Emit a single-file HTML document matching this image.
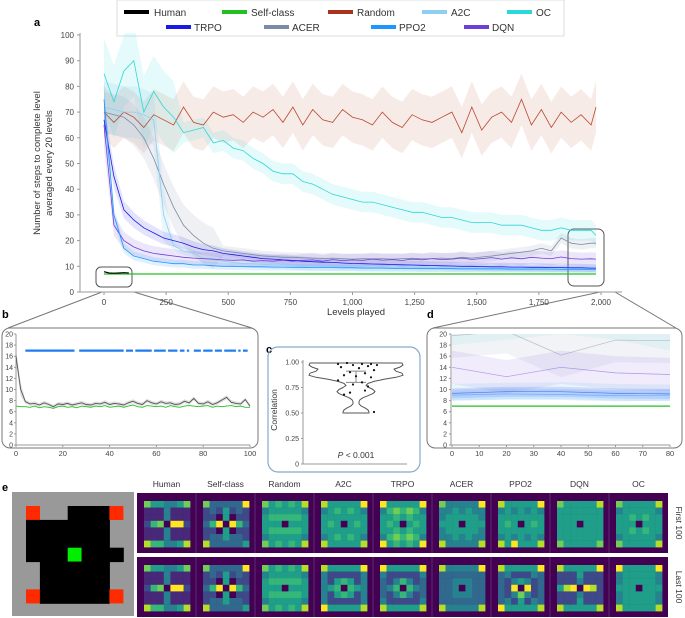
<!DOCTYPE html>
<html><head><meta charset="utf-8"><style>
html,body{margin:0;padding:0;background:#fff;}
svg{display:block;font-family:"Liberation Sans",sans-serif;}
</style></head><body>
<svg id="root" width="685" height="618" viewBox="0 0 685 618" xmlns="http://www.w3.org/2000/svg">
<defs>
<clipPath id="clipA"><rect x="80" y="33" width="545" height="259"/></clipPath>
<clipPath id="clipD"><rect x="451" y="334" width="225" height="111"/></clipPath>
</defs>
<g>
<rect x="117" y="0" width="447" height="36" fill="#fff" stroke="#ddd" stroke-width="1"/>
<g font-size="10" fill="#333">
<g><rect x="124" y="10" width="25" height="4" fill="#000"/><text x="154" y="16">Human</text></g>
<g><rect x="222" y="10" width="25" height="4" fill="#22c022"/><text x="251" y="16">Self-class</text></g>
<g><rect x="328" y="10" width="25" height="4" fill="#a8321e"/><text x="357" y="16">Random</text></g>
<g><rect x="422" y="10" width="25" height="4" fill="#8ccff0"/><text x="451" y="16">A2C</text></g>
<g><rect x="507" y="10" width="25" height="4" fill="#2bd8d8"/><text x="536" y="16">OC</text></g>
<g><rect x="166" y="25" width="25" height="4" fill="#1a1ae6"/><text x="194" y="31">TRPO</text></g>
<g><rect x="264" y="25" width="25" height="4" fill="#7a8ca6"/><text x="292" y="31">ACER</text></g>
<g><rect x="371" y="25" width="25" height="4" fill="#1e96ff"/><text x="399" y="31">PPO2</text></g>
<g><rect x="464" y="25" width="25" height="4" fill="#6a40d8"/><text x="492" y="31">DQN</text></g>
</g></g>
<text x="34" y="26" font-size="11" font-weight="bold">a</text>
<text x="2" y="318" font-size="11" font-weight="bold">b</text>
<text x="266" y="353" font-size="11" font-weight="bold">c</text>
<text x="427" y="318" font-size="11" font-weight="bold">d</text>
<text x="2" y="491" font-size="11" font-weight="bold">e</text>
<g font-size="9.5" fill="#333" text-anchor="middle">
<text transform="translate(40,163) rotate(-90)">Number of steps to complete level</text>
<text transform="translate(52,163) rotate(-90)">averaged every 20 levels</text>
</g>
<text x="356" y="315" font-size="9.5" fill="#333" text-anchor="middle">Levels played</text>
<g fill="none" stroke="#555" stroke-width="1">
<rect x="96" y="267" width="36" height="20" rx="5"/>
<rect x="568" y="229" width="36" height="57" rx="6"/>
<path d="M102,292 L8,328 M134,292 L252,328" stroke="#777"/>
<path d="M600,292 L433,328 M615,292 L676,328" stroke="#777"/>
</g>
<rect x="2" y="328" width="256" height="120" rx="8" fill="none" stroke="#777"/>
<rect x="427" y="328" width="255" height="120" rx="8" fill="none" stroke="#777"/>
<rect x="268" y="347" width="152" height="125" rx="10" fill="none" stroke="#8aa8c8" stroke-width="1.2"/>
<g id="A"></g><g id="B"></g><g id="C"></g><g id="D"></g><g id="E"></g>
</svg>
<script>
const aLevels=[0,40,80,120,160,200,240,280,320,360,400,440,480,520,560,600,640,680,720,760,800,840,880,920,960,1000,1040,1080,1120,1160,1200,1240,1280,1320,1360,1400,1440,1480,1520,1560,1600,1640,1680,1720,1760,1800,1840,1880,1920,1960,1980];
const aRandom=[70,66,70,68,64,69,67,65,72,66,65,70,68,69,66,70,68,71,66,72,65,71,67,66,71,68,67,65,70,66,64,69,67,66,68,70,62,72,63,68,70,66,75,65,71,64,70,66,69,65,72];
const aOC=[85,74,86,90,70,78,72,68,62,63,64,58,59,56,55,52,50,47,46,46,43,42,40,38,37,36,35,35,34,33,32,31,31,30,29,29,28,27,27,27,26,26,26,25,24,24,25,24,24,24,22];
const aA2C=[72,71,70,70,69,67,30,18,16,15,13,12.5,12,11.5,11,11,10.8,10.5,10.5,10.3,10,10,10,9.8,9.8,9.7,9.7,9.6,9.6,9.5,9.5,9.5,9.4,9.4,9.4,9.3,9.3,9.3,9.3,9.2,9.2,9.2,9.2,9.1,9.1,9.1,9.1,9.1,9,9,9];
const aACER=[70,69,68,65,60,52,42,33,26,22,19,17,16,15.5,15,14.5,14,13.8,13.5,13.5,13.3,13.2,13,13.2,13,12.8,13,12.9,13,12.8,13,13.1,12.9,13,13.2,13,13.5,13.2,13.6,14,14.5,15,15.5,16,17,16,21,19,18.5,19,19];
const aTRPO=[67,45,32,28,25,23,21,20,19,17.5,16.5,16,15,14.5,14,13.5,13,12.8,12.5,12.3,12,11.8,11.6,11.5,11.3,11.1,11,10.9,10.8,10.7,10.6,10.5,10.4,10.3,10.2,10.1,10,10,9.9,9.8,9.8,9.7,9.7,9.6,9.6,9.5,9.5,9.4,9.4,9.3,9.3];
const aPPO2=[75,30,17,14,13,12,11.5,11,11,10.5,10.5,10.2,10,10,9.9,9.8,9.8,9.7,9.7,9.6,9.6,9.5,9.5,9.5,9.4,9.4,9.3,9.3,9.3,9.2,9.2,9.2,9.1,9.1,9.1,9.1,9,9,9,9,9,8.9,8.9,8.9,8.9,8.9,8.8,8.8,8.8,8.8,8.8];
const aDQN=[65,26,20,17.5,16,15,14.5,14,13.5,13.2,13,12.8,12.5,12.3,12.5,12,12.2,12,12.4,12,12.3,12.5,12,12.6,12.2,12.5,12.3,12.8,12.4,12.6,12.3,12.8,12.5,13,12.6,12.8,13.2,12.7,13,13.4,12.8,13.3,12.9,13.5,13.2,13,13.6,13,12.8,12.9,12.8];
const aSelf=[7,7,7,7,7,7,7,7,7,7,7,7,7,7,7,7,7,7,7,7,7,7,7,7,7,7,7,7,7,7,7,7,7,7,7,7,7,7,7,7,7,7,7,7,7,7,7,7,7,7,7];
const aHumanLevels=[0,20,40,60,80,100];
const aHuman=[7.9,7.4,7.3,7.4,7.5,7.4];
const aYTicks=[0,10,20,30,40,50,60,70,80,90,100];
const aXTicks=[0,250,500,750,1000,1250,1500,1750,2000];
const aXTickLabels=["0","250","500","750","1,000","1,250","1,500","1,750","2,000"];

const bLevels=[0,2,4,6,8,10,12,14,16,18,20,22,24,26,28,30,32,34,36,38,40,42,44,46,48,50,52,54,56,58,60,62,64,66,68,70,72,74,76,78,80,82,84,86,88,90,92,94,96,98,100];
const bHuman=[16,10,7.8,7.4,7.5,7.2,7.6,7.3,6.9,7.4,7.3,7.5,7.2,7.4,7.6,7.3,7.2,7.5,7.4,7.7,7.3,7.5,7.4,7.2,7.6,7.9,7.5,7.3,8.0,7.6,7.4,7.8,7.5,7.6,7.3,7.4,7.9,7.6,8.4,7.5,7.4,7.8,7.3,7.6,8.1,8.6,7.7,7.5,7.4,8.2,7.0];
const bSelf=[7.0,6.9,6.9,6.8,7.0,6.7,6.9,6.8,6.6,6.9,7.0,6.8,6.9,6.7,7.0,6.9,6.8,7.0,6.9,7.1,6.8,6.9,7.0,6.8,7.0,7.2,6.9,6.8,7.1,7.0,6.9,7.0,6.8,7.1,6.9,6.8,7.0,7.1,7.0,6.9,7.0,7.1,6.8,7.0,6.9,7.0,7.1,6.9,7.0,6.8,6.8];
const bSigStart=[4,27,47,51,59,65,70,73,76,80,85,89,95,97];
const bSigEnd=[25,46,50,58,64,69,72,74,79,84,88,94,96,99];
const bSigLevel=17;
const bYTicks=[0,2,4,6,8,10,12,14,16,18,20];
const bXTicks=[0,20,40,60,80,100];

const cPoints=[0.99,0.98,0.98,0.97,0.96,0.95,0.94,0.92,0.90,0.89,0.87,0.86,0.85,0.82,0.80,0.78,0.76,0.72,0.70,0.68,0.51,0.97,0.98];
const cJitter=[-0.3,0.2,0.5,-0.1,0.4,-0.5,0.1,0.6,-0.2,0.3,-0.4,0.0,0.5,-0.6,0.2,-0.1,0.4,0.3,-0.2,-0.4,0.6,0.7,-0.6];
const cViolinLevels=[0.99,0.97,0.95,0.93,0.91,0.89,0.87,0.85,0.83,0.81,0.79,0.77,0.75,0.73,0.71,0.69,0.67,0.65,0.63,0.61,0.59,0.57,0.55,0.53,0.51,0.50];
const cViolinDensity=[46,47,44,38,40,46,47,40,28,18,12,10,13,17,19,17,12,7,4,3,3,5,9,12,13,13];
const cMean=0.91, cLow=0.80;
const cYTicks=[0,0.25,0.5,0.75,1.0];
const cYTickLabels=["0","0.25","0.50","0.75","1.00"];

const dLevels=[0,20,40,60,80];
const dACER=[19.7,20.5,16.2,18.9,18.8];
const dDQN=[14,12.3,14,13,12.7];
const dTRPO=[9.3,9.6,9.6,9.3,9.2];
const dPPO2=[9,9.2,9.1,8.9,9];
const dA2C=[9.5,9.7,9.8,9.5,9.4];
const dOC=[23,24,25,24,22];
const dSelf=[7,7,7,7,7];
const dYTicks=[0,2,4,6,8,10,12,14,16,18,20];
const dXTicks=[0,10,20,30,40,50,60,70,80];

const eAgents=["Human","Self-class","Random","A2C","TRPO","ACER","PPO2","DQN","OC"];
const eFirst=[
"7554457111411111141112670992111411111141118664458",
"7333339232523222050223690963220502223353328333335",
"7565658455555456666655550555566666545555547565658",
"8555559456565455555555650565555555545656548555558",
"9555559467676455656555650565556565546767649565659",
"7444449445454445555545550555455555444545448444448",
"8555559454545455555555650565555555545454548595558",
"7555558555555555555555550555555555555555557555557",
"7555558455555455656555550555556565545555547555558"];
const eLast=[
"7554457111411111141112670992111411111141118664458",
"7333339232523222050223690963220502223353328333335",
"7565658455555456666655550555566666545555547565658",
"8555559422222442565244560654425652442222249555558",
"9555559422222432464233460643324642342222248555558",
"8444449333333333444333340433334443333333338444448",
"8555559342224332454233290923324742334252439555558",
"8555559222522222242225890982222422222252228555558",
"9555559455555445555545550555455555445555548555558"];
const eMaze=["R00BBBR","BBBBBB0","BBBBBB0","BBBGBBB","0BBBBB0","0BBBBB0","RBBBBBR"];

const NS="http://www.w3.org/2000/svg";
function mk(tag,attrs,parent){const e=document.createElementNS(NS,tag);for(const k in attrs)e.setAttribute(k,attrs[k]);parent.appendChild(e);return e;}
function pathD(xs,ys,sx,sy){return xs.map((x,i)=>(i?'L':'M')+sx(x).toFixed(1)+','+sy(ys[i]).toFixed(1)).join('');}
function bandD(xs,ys,hw,sx,sy){let up=xs.map((x,i)=>sx(x).toFixed(1)+','+sy(ys[i]+hw(ys[i],i)).toFixed(1));let dn=xs.map((x,i)=>sx(x).toFixed(1)+','+sy(Math.max(0,ys[i]-hw(ys[i],i))).toFixed(1)).reverse();return 'M'+up.join('L')+'L'+dn.join('L')+'Z';}

const A=document.getElementById('A');
const ax=v=>104+v*(601-104)/2000, ay=v=>292-v*2.57;
let axis=mk('path',{d:'M80,33 L80,292 L622,292',fill:'none',stroke:'#999','stroke-width':1},A);


aYTicks.forEach(t=>{mk('line',{x1:77,x2:80,y1:ay(t),y2:ay(t),stroke:'#999'},A);
 const tx=mk('text',{x:74,y:ay(t)+3,'font-size':8,fill:'#444','text-anchor':'end'},A);tx.textContent=t;
 
 });
aXTicks.forEach((t,i)=>{mk('line',{x1:ax(t),x2:ax(t),y1:292,y2:295,stroke:'#999'},A);
 const tx=mk('text',{x:ax(t),y:305,'font-size':8,fill:'#444','text-anchor':'middle'},A);tx.textContent=aXTickLabels[i];
 
 });
const gA=mk('g',{'clip-path':'url(#clipA)'},A);
const seriesA=[
 {n:'random',v:aRandom,c:'#b8492f',hw:(v)=>10,bo:0.11},
 {n:'oc',v:aOC,c:'#2bd8d8',hw:(v,i)=>i<8?14:4,bo:0.12},
 {n:'acer',v:aACER,c:'#7a8ca6',hw:(v,i)=>i<12?8:2,bo:0.13},
 {n:'a2c',v:aA2C,c:'#8ccff0',hw:(v,i)=>i<7?10:1.5,bo:0.18},
 {n:'dqn',v:aDQN,c:'#6a40d8',hw:(v)=>1+v*0.12,bo:0.13},
 {n:'trpo',v:aTRPO,c:'#1a1ae6',hw:(v)=>0.8+v*0.08,bo:0.12},
 {n:'ppo2',v:aPPO2,c:'#1e96ff',hw:(v)=>0.6+v*0.08,bo:0.14}];
seriesA.forEach(s=>{const b=mk('path',{d:bandD(aLevels,s.v,s.hw,ax,ay),fill:s.c,opacity:s.bo,stroke:'none'},gA);
 
 });
seriesA.forEach(s=>{const l=mk('path',{d:pathD(aLevels,s.v,ax,ay),fill:'none',stroke:s.c,'stroke-width':0.8},gA);
 
 });
let ls=mk('path',{d:pathD(aLevels,aSelf,ax,ay),fill:'none',stroke:'#22c022','stroke-width':1.2},gA);


let lh=mk('path',{d:pathD(aHumanLevels,aHuman,ax,ay),fill:'none',stroke:'#000','stroke-width':1.2},gA);



const B=document.getElementById('B');
const bx=v=>16+v*2.34, by=v=>445-v*5.55;
let axb=mk('path',{d:'M16,334 L16,445 L250,445',fill:'none',stroke:'#999'},B);


bYTicks.forEach(t=>{mk('line',{x1:14,x2:16,y1:by(t),y2:by(t),stroke:'#999'},B);
 const tx=mk('text',{x:13,y:by(t)+2.5,'font-size':7,fill:'#444','text-anchor':'end'},B);tx.textContent=t;
 
 });
bXTicks.forEach(t=>{mk('line',{x1:bx(t),x2:bx(t),y1:445,y2:447,stroke:'#999'},B);
 const tx=mk('text',{x:bx(t),y:456,'font-size':7.5,fill:'#444','text-anchor':'middle'},B);tx.textContent=t;
 
 });
let bb=mk('path',{d:bandD(bLevels,bHuman,(v,i)=>i<2?1.2:0.35,bx,by),fill:'#999',opacity:0.3},B);


let bh=mk('path',{d:pathD(bLevels,bHuman,bx,by),fill:'none',stroke:'#555','stroke-width':0.9},B);


let bs=mk('path',{d:pathD(bLevels,bSelf,bx,by),fill:'none',stroke:'#22c022','stroke-width':0.9},B);


bSigStart.forEach((s,i)=>{const r=mk('line',{x1:bx(s),x2:bx(bSigEnd[i]),y1:by(bSigLevel),y2:by(bSigLevel),stroke:'#1e7cf0','stroke-width':2.2},B);
 
 });

const C=document.getElementById('C');
const cy=v=>464-v*102, cxc=356;
let axc=mk('path',{d:'M303,360 L303,464 L407,464',fill:'none',stroke:'#999'},C);


cYTicks.forEach((t,i)=>{mk('line',{x1:301,x2:303,y1:cy(t),y2:cy(t),stroke:'#999'},C);
 const tx=mk('text',{x:299,y:cy(t)+2.5,'font-size':7,fill:'#444','text-anchor':'end'},C);tx.textContent=cYTickLabels[i];
 
 });
let ct=mk('text',{transform:'translate(277,410) rotate(-90)','font-size':8.5,fill:'#333','text-anchor':'middle'},C);ct.textContent='Correlation';


let right=cViolinLevels.map((v,i)=>(cxc+cViolinDensity[i]).toFixed(1)+','+cy(v).toFixed(1));
let left=cViolinLevels.map((v,i)=>(cxc-cViolinDensity[i]).toFixed(1)+','+cy(v).toFixed(1)).reverse();
let vio=mk('path',{d:'M'+right.join('L')+'L'+left.join('L')+'Z',fill:'#fff',stroke:'#555','stroke-width':1,'stroke-linejoin':'round'},C);


let eb=mk('path',{d:`M${cxc-10},${cy(cMean)}L${cxc+10},${cy(cMean)}M${cxc},${cy(cMean)}L${cxc},${cy(cLow)}M${cxc-10},${cy(cLow)}L${cxc+10},${cy(cLow)}`,stroke:'#888',fill:'none'},C);


cPoints.forEach((p,i)=>{const d=mk('circle',{cx:cxc+cJitter[i]*30,cy:cy(p),r:1.1,fill:'#111'},C);
 
 });
let pv=mk('text',{x:356,y:458,'font-size':8.5,fill:'#333','text-anchor':'middle'},C);pv.innerHTML='<tspan font-style="italic">P</tspan> &lt; 0.001';



const D=document.getElementById('D');
const dx=v=>452+v*2.725, dy=v=>445-v*5.55;
let axd=mk('path',{d:'M451,334 L451,445 L670,445',fill:'none',stroke:'#999'},D);


dYTicks.forEach(t=>{mk('line',{x1:449,x2:451,y1:dy(t),y2:dy(t),stroke:'#999'},D);
 const tx=mk('text',{x:447,y:dy(t)+2.5,'font-size':7,fill:'#444','text-anchor':'end'},D);tx.textContent=t;
 
 });
dXTicks.forEach(t=>{mk('line',{x1:dx(t),x2:dx(t),y1:445,y2:447,stroke:'#999'},D);
 const tx=mk('text',{x:dx(t),y:456,'font-size':7.5,fill:'#444','text-anchor':'middle'},D);tx.textContent=t;
 
 });
const gD=mk('g',{'clip-path':'url(#clipD)'},D);
const seriesD=[
 {n:'oc',v:dOC,c:'#2bd8d8',hw:5,bo:0.08},
 {n:'acer',v:dACER,c:'#7a8ca6',hw:4,bo:0.1},
 {n:'dqn',v:dDQN,c:'#6a40d8',hw:3,bo:0.1},
 {n:'a2c',v:dA2C,c:'#8ccff0',hw:1.5,bo:0.2},
 {n:'trpo',v:dTRPO,c:'#1a1ae6',hw:0.9,bo:0.12},
 {n:'ppo2',v:dPPO2,c:'#1e96ff',hw:1,bo:0.15}];
seriesD.forEach(s=>{const b=mk('path',{d:bandD(dLevels,s.v,()=>s.hw,dx,dy),fill:s.c,opacity:s.bo},gD);
 
 });
seriesD.forEach(s=>{const l=mk('path',{d:pathD(dLevels,s.v,dx,dy),fill:'none',stroke:s.c,'stroke-width':0.7,opacity:0.5},gD);
 
 });
let dsl=mk('path',{d:pathD(dLevels,dSelf,dx,dy),fill:'none',stroke:'#22c022','stroke-width':1.3},gD);



const E=document.getElementById('E');
const vir=['#440154','#482878','#3e4989','#31688e','#26828e','#1f9e89','#35b779','#6ece58','#b5de2b','#fde725'];
let mz=mk('rect',{x:12,y:492,width:122,height:124,fill:'#999'},E);


const mcol={B:'#000',R:'#ff2a00',G:'#00ee00'};
eMaze.forEach((row,r)=>{[...row].forEach((ch,c)=>{if(ch==='0')return;
 if(ch==='R'||ch==='G'){if(ch==='G')mk('rect',{x:26+c*13.9,y:506+r*13.9,width:14.4,height:14.4,fill:'#000'},E);
  const q=mk('rect',{x:26+c*13.9,y:506+r*13.9,width:14,height:14,fill:mcol[ch]},E);
  
  }
 else mk('rect',{x:26+c*13.9,y:506+r*13.9,width:14.4,height:14.4,fill:'#000'},E);});});
const colW=59;
eAgents.forEach((a,i)=>{const t=mk('text',{x:137+i*colW+colW/2,y:487,'font-size':8.5,fill:'#333','text-anchor':'middle'},E);t.textContent=a;
 
 });
[[eFirst,493],[eLast,557]].forEach(([set,y0],ri)=>{
 const strip=mk('rect',{x:137,y:y0,width:531,height:60,fill:'#440154'},E);
 
 
 set.forEach((s,i)=>{const gx=137+i*colW;
  if(i>0)mk('line',{x1:gx,x2:gx,y1:y0,y2:y0+60,stroke:'#6a4a80','stroke-width':0.6},E);
  const g=mk('g',{},E);
  
  
  for(let k=0;k<49;k++){const r=Math.floor(k/7),c=k%7;
   mk('rect',{x:gx+7+c*6.6,y:y0+8+r*6.6,width:6.8,height:6.8,fill:vir[+s[k]]},g);}
 });
});
let l1=mk('text',{transform:'translate(676,523) rotate(90)','font-size':8.5,fill:'#333','text-anchor':'middle'},E);l1.textContent='First 100';


let l2=mk('text',{transform:'translate(676,587) rotate(90)','font-size':8.5,fill:'#333','text-anchor':'middle'},E);l2.textContent='Last 100';


</script>
</body></html>
